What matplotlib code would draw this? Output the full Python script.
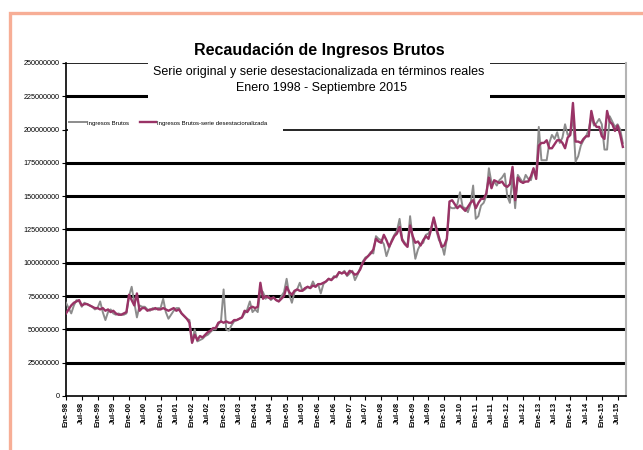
import matplotlib
matplotlib.use("Agg")
import matplotlib.pyplot as plt
from matplotlib.patches import Rectangle
import numpy as np

plt.rcParams['font.family'] = ['Liberation Sans', 'DejaVu Sans']

# Monthly values in millions, Ene-1998 .. Sep-2015
ingresos_brutos = [
    70, 66, 62, 68, 72, 71, 67, 70, 69, 68, 67, 65,      # 1998
    66, 71, 63, 57, 63, 65, 62, 61, 62, 61, 61, 62,      # 1999
    75, 82, 70, 59, 68, 67, 67, 65, 64, 66, 65, 66,      # 2000
    66, 73, 63, 58, 61, 64, 66, 66, 62, 60, 58, 57,      # 2001
    40, 50, 41, 42, 43, 45, 46, 48, 50, 50, 54, 56,      # 2002
    80, 50, 49, 53, 56, 57, 58, 59, 62, 65, 71, 63,      # 2003
    65, 63, 80, 78, 73, 75, 72, 74, 72, 71, 75, 78,      # 2004
    88, 76, 70, 78, 80, 85, 79, 80, 82, 81, 86, 82,      # 2005
    84, 77, 84, 86, 88, 87, 90, 89, 93, 92, 94, 90,      # 2006
    92, 94, 87, 91, 96, 101, 104, 105, 108, 107, 120, 118,   # 2007
    117, 114, 105, 111, 117, 121, 124, 133, 118, 115, 112, 135,  # 2008
    118, 103, 110, 114, 115, 121, 122, 126, 133, 124, 117, 114,  # 2009
    106, 118, 142, 141, 141, 144, 153, 142, 141, 138, 144, 158,  # 2010
    133, 135, 143, 145, 150, 171, 160, 161, 158, 162, 164, 167,  # 2011
    150, 145, 165, 141, 166, 163, 160, 166, 163, 162, 170, 165,  # 2012
    202, 177, 177, 177, 190, 196, 193, 198, 190, 194, 204, 196,  # 2013
    197, 210, 176, 180, 188, 192, 195, 200, 210, 203, 205, 208,  # 2014
    204, 185, 185, 210, 206, 202, 204, 200, 190,                 # 2015
]

ingresos_desest = [
    62, 65, 68, 70, 71, 72, 68, 69, 69, 68, 67, 66,      # 1998
    66, 65, 66, 64, 65, 63, 64, 62, 61, 61, 62, 63,      # 1999
    76, 72, 68, 77, 64, 66, 66, 64, 65, 65, 66, 65,      # 2000
    65, 66, 65, 64, 65, 66, 64, 65, 62, 60, 58, 55,      # 2001
    40, 46, 42, 45, 44, 46, 48, 49, 51, 51, 55, 56,      # 2002
    55, 56, 55, 55, 57, 57, 58, 59, 64, 63, 66, 67,      # 2003
    66, 67, 85, 73, 75, 74, 73, 74, 72, 71, 73, 75,      # 2004
    82, 78, 76, 79, 80, 79, 79, 81, 82, 81, 83, 82,      # 2005
    84, 84, 85, 86, 88, 87, 89, 90, 93, 92, 93, 91,      # 2006
    94, 93, 91, 92, 95, 100, 103, 105, 107, 110, 118, 116,   # 2007
    115, 121, 117, 112, 116, 120, 122, 127, 117, 114, 112, 128,  # 2008
    120, 115, 116, 113, 117, 120, 118, 125, 134, 126, 119, 112,  # 2009
    113, 118, 146, 147, 144, 141, 143, 141, 139, 142, 145, 147,  # 2010
    141, 145, 148, 148, 152, 164, 156, 162, 161, 160, 161, 158,  # 2011
    157, 159, 172, 147, 164, 161, 160, 161, 161, 165, 171, 163,  # 2012
    188, 190, 190, 192, 186, 186, 189, 192, 192, 190, 186, 194,  # 2013
    196, 220, 191, 191, 190, 193, 195, 195, 214, 205, 202, 202,  # 2014
    195, 193, 214, 206, 204, 199, 203, 196, 187,                 # 2015
]

tick_labels = [
    "Ene-98", "Jul-98", "Ene-99", "Jul-99", "Ene-00", "Jul-00", "Ene-01", "Jul-01",
    "Ene-02", "Jul-02", "Ene-03", "Jul-03", "Ene-04", "Jul-04", "Ene-05", "Jul-05",
    "Ene-06", "Jul-06", "Ene-07", "Jul-07", "Ene-08", "Jul-08", "Ene-09", "Jul-09",
    "Ene-10", "Jul-10", "Ene-11", "Jul-11", "Ene-12", "Jul-12", "Ene-13", "Jul-13",
    "Ene-14", "Jul-14", "Ene-15", "Jul-15",
]

y_ticks = [0, 25000000, 50000000, 75000000, 100000000, 125000000,
           150000000, 175000000, 200000000, 225000000, 250000000]

original = np.array(ingresos_brutos) * 1e6
desest = np.array(ingresos_desest) * 1e6
months = np.arange(len(original))

fig = plt.figure(figsize=(6.43, 4.5), dpi=100)
ax = fig.add_axes([66 / 643, 54 / 450, 560 / 643, 333 / 450])

# horizontal grid lines
for v in y_ticks[1:]:
    lw = 1.2 if v in (200000000, 250000000) else 2.2
    ax.axhline(v, color="black", lw=lw, zorder=1)

ax.plot(months, original, color="#8c8c8c", lw=1.4, zorder=3, label="Ingresos Brutos")
ax.plot(months, desest, color="#993366", lw=1.7, zorder=3,
        label="Ingresos Brutos-serie desestacionalizada")

ax.set_xlim(0, 213.2)
ax.set_ylim(0, 250000000)
ax.set_yticks(y_ticks)
ax.set_yticklabels([str(v) for v in y_ticks], fontsize=5.2)
ax.set_xticks(np.arange(0, len(tick_labels) * 6, 6))
ax.set_xticklabels(tick_labels, rotation=90, fontsize=5.5, fontweight="bold")
ax.tick_params(axis="both", length=3, width=0.8, pad=1.5)

ax.spines["top"].set_visible(False)
ax.spines["right"].set_color("#b4b4b4")
ax.spines["right"].set_linewidth(1.5)
ax.spines["left"].set_linewidth(1.2)
ax.spines["bottom"].set_linewidth(1.2)

# white patch under the legend
ax.add_patch(Rectangle((0.004, 0.795), 0.383, 0.05, transform=ax.transAxes,
                       facecolor="white", edgecolor="none", zorder=4))
leg = ax.legend(loc="center left", bbox_to_anchor=(-0.004, 0.82), ncol=2,
                frameon=False, fontsize=4.3, handlelength=2.8, handletextpad=0.15,
                columnspacing=1.8)
leg.set_zorder(5)

# white box behind the titles
fig.patches.append(Rectangle((148 / 643, (450 - 99) / 450), 342 / 643, 64 / 450,
                             transform=fig.transFigure, facecolor="white",
                             edgecolor="none", zorder=1))

fig.text(0.497, (450 - 50) / 450, "Recaudación de Ingresos Brutos", ha="center",
         va="center", fontsize=11.5, fontweight="bold")
fig.text(0.495, (450 - 72) / 450, "Serie original y serie desestacionalizada en términos reales",
         ha="center", va="center", fontsize=9)
fig.text(0.5, (450 - 88) / 450, "Enero 1998 - Septiembre 2015", ha="center",
         va="center", fontsize=9)

# salmon outer frame
fig.patches.append(Rectangle((10 / 643, -0.05), 1.0, (450 - 13) / 450 + 0.05,
                             transform=fig.transFigure, fill=False,
                             edgecolor="#f7ae96", lw=2.4, zorder=0))

fig.savefig("out.png", dpi=100)
